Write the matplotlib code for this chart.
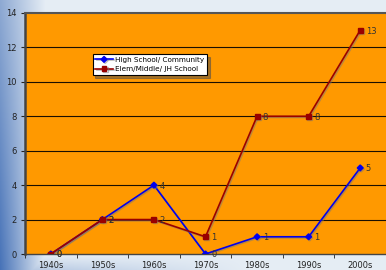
import numpy as np
import matplotlib
matplotlib.use('Agg')
import matplotlib.pyplot as plt
import matplotlib.patheffects as pe

decades = ['1940s', '1950s', '1960s', '1970s', '1980s', '1990s', '2000s']
high_school = [0, 2, 4, 0, 1, 1, 5]
elem_school = [0, 2, 2, 1, 8, 8, 13]

fig = plt.figure(figsize=(3.86, 2.70), dpi=100)

# background gradient (blue on the left, pale elsewhere)
h, w = 270, 386
yy, xx = np.mgrid[0:h, 0:w]
light = np.array([0.90, 0.93, 0.96])
blue = np.array([0.28, 0.45, 0.72])
wgt = np.clip(1 - xx / 45.0, 0, 1) * (0.55 + 0.45 * yy / h)
wgt = np.maximum(wgt, np.clip((yy - 255) / 15.0, 0, 1) * 0.35 * np.clip(1 - xx / 250.0, 0, 1))
img = light[None, None, :] * (1 - wgt[..., None]) + blue[None, None, :] * wgt[..., None]
bg = fig.add_axes([0, 0, 1, 1], zorder=-10)
bg.imshow(img, aspect='auto', extent=[0, 1, 0, 1])
bg.axis('off')

ax = fig.add_axes([25 / 386, 16 / 270, 361 / 386, 241 / 270])
ax.set_facecolor('#FF9900')
x = np.arange(len(decades))

shadow = [pe.SimpleLineShadow(offset=(0.8, -0.8), shadow_color='#777777', alpha=0.5), pe.Normal()]
ax.plot(x, high_school, color='#0000EE', marker='D', markersize=3, lw=1.2,
        label='High School/ Community', path_effects=shadow, zorder=4)
ax.plot(x, elem_school, color='#990000', marker='s', markersize=3.5, lw=1.2,
        label='Elem/Middle/ JH School', path_effects=shadow, zorder=4)

for xi, v in zip(x, high_school):
    ax.annotate(str(v), (xi, v), xytext=(4, -2.5), textcoords='offset points',
                fontsize=6, color='#333333', zorder=5)
for xi, v in zip(x, elem_school):
    ax.annotate(str(v), (xi, v), xytext=(4, -2.5), textcoords='offset points',
                fontsize=6, color='#333333', zorder=5)

ax.set_xlim(-0.5, 6.5)
ax.set_ylim(0, 14)
ax.set_yticks(range(0, 15, 2))
ax.set_xticks(x)
ax.set_xticklabels(decades)
ax.set_xticks(np.arange(-0.5, 7, 1), minor=True)
ax.tick_params(axis='x', which='major', length=0, labelsize=6, colors='#222222', pad=5)
ax.tick_params(axis='x', which='minor', length=3, direction='out', color='#222222')
ax.tick_params(axis='y', length=3, labelsize=6, colors='#222222', pad=3)
for yv in range(2, 14, 2):
    ax.axhline(yv, color='#1a0f00', lw=0.8, zorder=1)

ax.spines['left'].set_color('#444444')
ax.spines['left'].set_linewidth(1.8)
ax.spines['top'].set_color('#555555')
ax.spines['top'].set_linewidth(1.5)
ax.spines['bottom'].set_color('#444444')
ax.spines['bottom'].set_linewidth(1.0)
ax.spines['right'].set_visible(False)

leg = ax.legend(loc='upper left', bbox_to_anchor=(0.187, 0.83), fontsize=5.2,
                frameon=True, fancybox=False, shadow=True, borderpad=0.4,
                handlelength=2.4, labelspacing=0.45, borderaxespad=0, handletextpad=0.3)
leg.get_frame().set_edgecolor('black')
leg.get_frame().set_linewidth(0.8)

fig.savefig('out.png', dpi=100)
